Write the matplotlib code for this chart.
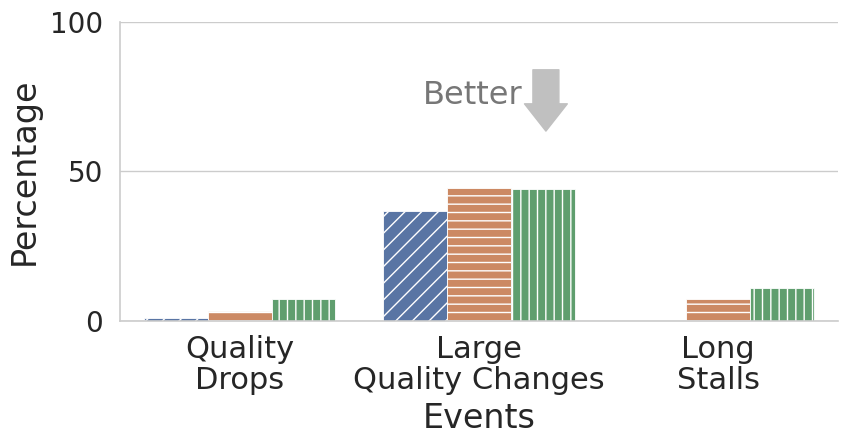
import numpy as np
import matplotlib.pyplot as plt

events = ['Quality\nDrops', 'Large\nQuality Changes', 'Long\nStalls']
series_a = [1.0, 36.8, 0.0]
series_b = [3.2, 44.5, 7.2]
series_c = [7.4, 44.0, 11.0]

colors = ['#5975a4', '#cc8963', '#5f9e6e']
hatches = ['//', '--', '||']

plt.rcParams['font.family'] = 'DejaVu Sans'
plt.rcParams['hatch.color'] = 'white'
plt.rcParams['hatch.linewidth'] = 1.0

fig, ax = plt.subplots(figsize=(8.48, 4.48), dpi=100)
fig.subplots_adjust(left=0.1415, right=0.988, top=0.951, bottom=0.2835)

x = np.arange(len(events))
w = 0.8 / 3
for i, vals in enumerate([series_a, series_b, series_c]):
    ax.bar(x + (i - 1) * w, vals, width=w, color=colors[i], hatch=hatches[i],
           edgecolor='white', linewidth=0.6, zorder=2)

ax.set_xlim(-0.5, 2.5)
ax.set_ylim(0, 100)
ax.set_yticks([0, 50, 100])
ax.set_xticks(x)
ax.set_xticklabels(events, fontsize=22, color='#262626', linespacing=1.1)
ax.tick_params(axis='y', labelsize=20, labelcolor='#262626', length=0, pad=12)
ax.tick_params(axis='x', length=0, pad=10)
ax.set_ylabel('Percentage', fontsize=24, color='#262626', labelpad=7)
ax.set_xlabel('Events', fontsize=24, color='#262626', labelpad=5)

ax.yaxis.grid(True, color='#cccccc', linewidth=1, zorder=0)
ax.set_axisbelow(True)
for s in ['top', 'right']:
    ax.spines[s].set_visible(False)
for s in ['left', 'bottom']:
    ax.spines[s].set_color('#cccccc')
    ax.spines[s].set_linewidth(1.2)

ax.annotate('', xy=(1.28, 63.5), xytext=(1.28, 84),
            arrowprops=dict(arrowstyle='simple,head_length=1.05,head_width=1.65,tail_width=1.0',
                            mutation_scale=18.7, color='#c0c0c0', shrinkA=0, shrinkB=0))
ax.text(1.183, 75.5, 'Better', fontsize=23, color='#777777', ha='right', va='center')

fig.savefig('out.png')
